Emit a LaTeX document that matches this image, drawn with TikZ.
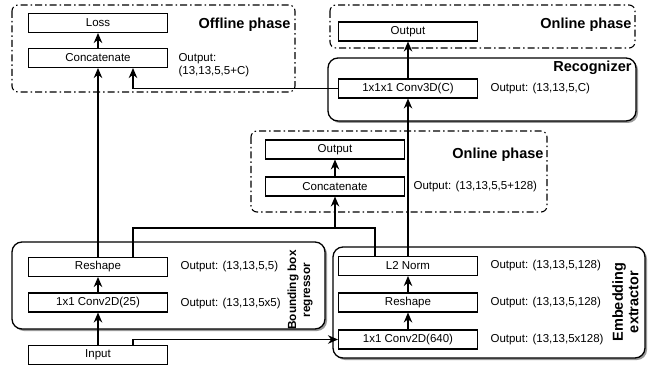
\documentclass[tikz,border=0pt]{standalone}
\usepackage{fontspec}
\setmainfont{Liberation Sans}
\usetikzlibrary{arrows.meta,shadows}

\tikzset{
    phase/.style={rounded corners=6pt,line width=1.1pt,dash pattern=on 7pt off 3pt on 1.5pt off 3pt},
    part/.style={rounded corners=10pt,line width=1.3pt,fill=white,
                 drop shadow={shadow xshift=2pt,shadow yshift=-2pt,fill=black!40,opacity=1}},
    layer/.style={draw,rectangle,line width=1.1pt,fill=white,minimum width=139pt,minimum height=19pt,inner sep=0pt},
    title/.style={inner sep=0pt,font=\bfseries\fontsize{14.5}{15.5}\selectfont}
}

\begin{document}
\begin{tikzpicture}[x=1pt,y=-1pt,line width=1.1pt,font=\fontsize{11.5}{12.5}\selectfont]
\useasboundingbox (0,0) rectangle (655,366);

% frames
\draw[phase] (12,5) rectangle (295,92);
\draw[phase] (330,5) rectangle (635,48);
\draw[phase] (251,131) rectangle (547,212);
\draw[part] (328,58) rectangle (636,121);
\draw[part] (12,242) rectangle (325,329);
\draw[part] (333,247) rectangle (645,358);

\begin{scope}[every node/.style={layer}]
    \node (Loss) at (98,23) {Loss};
    \node (CatOff) at (98,58) {Concatenate};
    \node (OutA) at (408,31.5) {Output};
    \node (Conv3) at (408,88.5) {1x1x1 Conv3D(C)};
    \node (OutB) at (335,149.5) {Output};
    \node (CatOn) at (335,186.5) {Concatenate};
    \node (ReshA) at (98,267) {Reshape};
    \node (ConvA) at (98,302.5) {1x1 Conv2D(25)};
    \node (In) at (98,355) {Input};
    \node (Norm) at (408,266) {L2 Norm};
    \node (ReshB) at (408,302.5) {Reshape};
    \node (ConvB) at (408,339.5) {1x1 Conv2D(640)};
\end{scope}

\begin{scope}[every node/.style={anchor=west,align=left,inner sep=0pt}]
    \node (oCatOff) at (178,65) {Output:\\(13,13,5,5+C)};
    \node (oConv3) at (490,88.5) {Output: (13,13,5,C)};
    \node (oCatOn) at (413,186.5) {Output: (13,13,5,5+128)};
    \node (oReshA) at (180,267) {Output: (13,13,5,5)};
    \node (oConvA) at (180,304) {Output: (13,13,5x5)};
    \node (oNorm) at (490,266) {Output: (13,13,5,128)};
    \node (oReshB) at (490,302.5) {Output: (13,13,5,128)};
    \node (oConvB) at (490,339.5) {Output: (13,13,5x128)};
\end{scope}

\begin{scope}[every node/.style={title}]
    \node[anchor=east] (tOff) at (291,25) {Offline phase};
    \node[anchor=east] (tOnA) at (632,25) {Online phase};
    \node[anchor=east] (tRec) at (632,68) {Recognizer};
    \node[anchor=east] (tOnB) at (544,155) {Online phase};
    \node[rotate=90,align=center,font=\bfseries\fontsize{11.8}{14}\selectfont] (tBB) at (300,290) {Bounding box\\regressor};
    \node[rotate=90,align=center] (tEmb) at (625.5,302) {Embedding\\extractor};
\end{scope}

\begin{scope}[>={Stealth[length=10pt,width=8.5pt]}]
    \coordinate (J) at (335,228);
    \draw[->] (In) -- (ConvA);
    \draw[->] (ConvA) -- (ReshA);
    \draw[->] (ReshA) -- (CatOff);
    \draw[->] (CatOff) -- (Loss);
    \draw[->] (Conv3.west) -| ([xshift=35pt]CatOff.south);
    \draw[->] (Conv3) -- (OutA);
    \draw[->] (Norm) -- (Conv3);
    \draw[->] (ConvB) -- (ReshB);
    \draw[->] (ReshB) -- (Norm);
    \draw ([xshift=35pt]ReshA.north) |- (J) -| ([xshift=-33pt]Norm.north);
    \draw[->] (J) -- (CatOn);
    \draw[->] (CatOn) -- (OutB);
    \draw[->] ([xshift=35pt]In.north) |- (ConvB.west);
\end{scope}
\end{tikzpicture}
\end{document}
